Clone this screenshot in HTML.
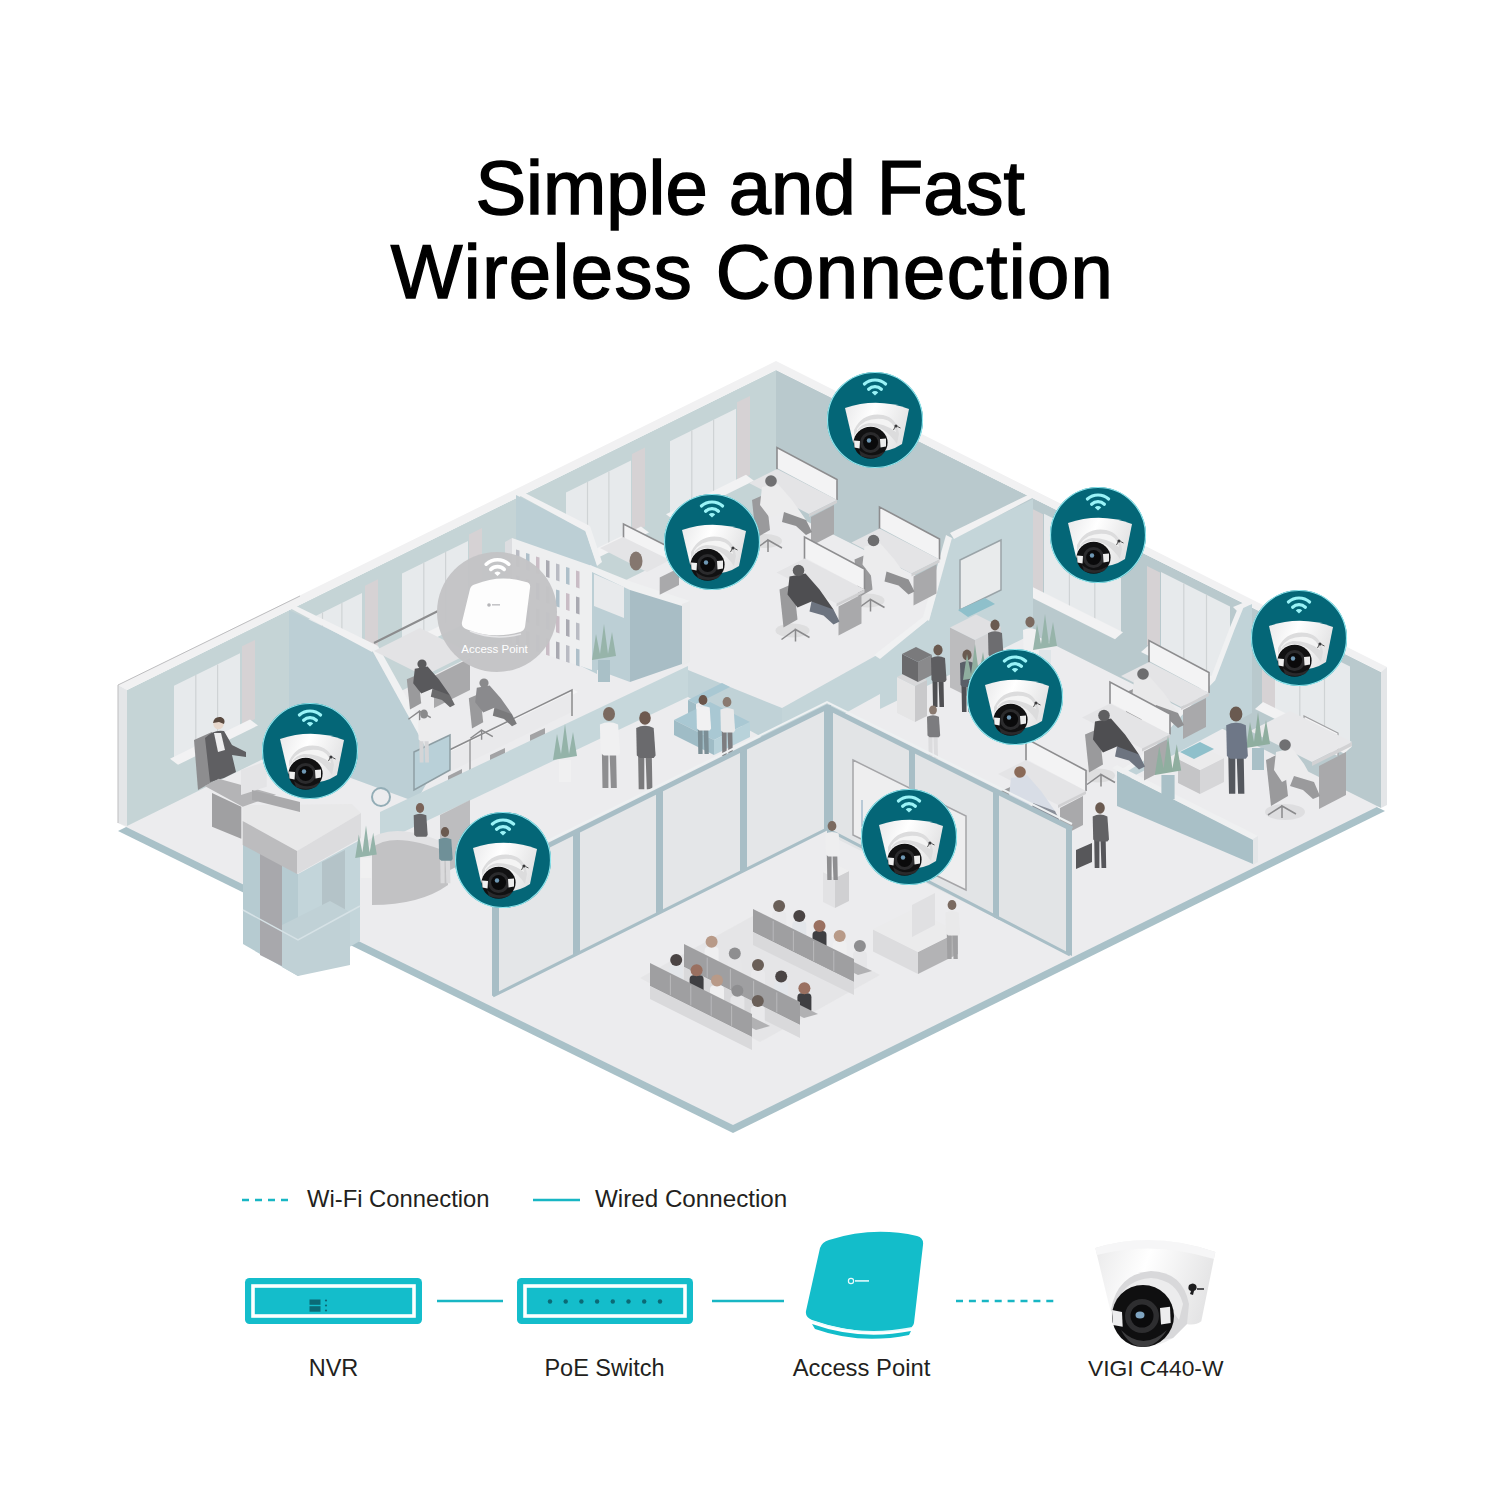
<!DOCTYPE html>
<html><head><meta charset="utf-8">
<style>
html,body{margin:0;padding:0;background:#fff;width:1500px;height:1500px;overflow:hidden}
svg{display:block}
text{font-family:"Liberation Sans",sans-serif}
</style></head>
<body>
<svg width="1500" height="1500" viewBox="0 0 1500 1500">
<defs>
  <linearGradient id="domeg" x1="0" y1="0" x2="1" y2="0.3">
    <stop offset="0" stop-color="#e9e9ea"/><stop offset="0.45" stop-color="#ffffff"/><stop offset="1" stop-color="#e4e4e5"/>
  </linearGradient>
  <g id="cam">
    <circle r="48" fill="#046677"/>
    <circle r="47.5" fill="none" stroke="#8ee6ee" stroke-width="1.2"/>
    <path d="M-10.6,-36 A16,16 0 0 1 10.6,-36" fill="none" stroke="#9af3f7" stroke-width="3.2" stroke-linecap="round"/>
    <path d="M-6.4,-30.8 A9.5,9.5 0 0 1 6.4,-30.8" fill="none" stroke="#9af3f7" stroke-width="3.2" stroke-linecap="round"/>
    <path d="M-3.2,-27.6 A4.2,4.2 0 0 1 3.2,-27.6 L0,-24.5 Z" fill="#9af3f7"/>
    <path d="M-30,-12 Q2,-23 34,-11 L27,24 Q14,33 -6,32 Q-18,30 -22,22 Z" fill="url(#domeg)"/>
    <path d="M-21,10 Q-12,-8 8,-5 Q22,-2 24,14 L22,24 Q10,6 -6,6 Q-16,7 -21,16 Z" fill="#dcdcdd"/>
    <path d="M-18,9 Q-10,-3 8,-1 Q19,1 21,12 Q10,3 -6,3 Q-14,4 -18,11 Z" fill="#f4f4f4"/>
    <ellipse cx="-4.4" cy="22.7" rx="17" ry="16" fill="#111112"/>
    <path d="M-16,30 Q-4,40 10,31 L6,36 Q-4,40 -14,36 Z" fill="#2a2a2c"/>
    <circle cx="-4.4" cy="22.5" r="10.5" fill="#2b2b2d"/>
    <circle cx="-4.4" cy="22.5" r="7.5" fill="#0a0a0b"/>
    <circle cx="-6" cy="20.5" r="2.2" fill="#6f98b4"/>
    <path d="M-21,20.5 L-15,21 L-15.5,28.6 L-20.5,27.5 Z" fill="#f0f0f0"/>
    <path d="M5,19 L11,18.5 L11,26.5 L5.5,27.5 Z" fill="#ececec"/>
    <circle cx="21" cy="6" r="1.6" fill="#3a3a3c"/><path d="M20,7 l-1.5,3 M22.5,6.5 l3,1.5" stroke="#555" stroke-width="1"/>
  </g>
</defs>

<text x="750" y="214" text-anchor="middle" font-size="76" fill="#000" stroke="#000" stroke-width="1.5">Simple and Fast</text>
<text x="752.5" y="298" text-anchor="middle" font-size="76" letter-spacing="1.4" fill="#000" stroke="#000" stroke-width="1.5">Wireless Connection</text>
<polygon points="118.0,823.0 733.0,1125.0 1385.0,803.0 770.0,501.0" fill="#a9c1c8" transform="translate(0,8)"/>
<polygon points="118.0,823.0 733.0,1125.0 1385.0,803.0 770.0,501.0" fill="#ececee"/>
<polygon points="127.0,690.0 776.0,370.0 776.0,506.0 127.0,826.0" fill="#c5d4d6"/>
<polygon points="776.0,370.0 1381.0,671.9 1381.0,807.9 776.0,506.0" fill="#b9c9cd"/>
<polygon points="242.0,646.3 255.0,639.9 255.0,718.9 242.0,725.3" fill="#d6d2d4"/>
<polygon points="174.0,685.8 240.0,653.3 240.0,725.3 174.0,757.8" fill="#e7eaec"/>
<line x1="195.8" y1="675.1" x2="195.8" y2="747.1" stroke="#cfd3d5" stroke-width="1.2"/>
<line x1="217.6" y1="664.4" x2="217.6" y2="736.4" stroke="#cfd3d5" stroke-width="1.2"/>
<polygon points="170.0,758.8 250.0,719.4 258.0,725.4 178.0,764.8" fill="#f2f2f3"/>
<polygon points="365.0,585.7 378.0,579.3 378.0,658.3 365.0,664.7" fill="#d6d2d4"/>
<polygon points="303.0,622.2 362.0,593.1 362.0,665.1 303.0,694.2" fill="#e7eaec"/>
<line x1="322.5" y1="612.6" x2="322.5" y2="684.6" stroke="#cfd3d5" stroke-width="1.2"/>
<line x1="341.9" y1="603.0" x2="341.9" y2="675.0" stroke="#cfd3d5" stroke-width="1.2"/>
<polygon points="299.0,695.2 372.0,659.2 380.0,665.2 307.0,701.2" fill="#f2f2f3"/>
<polygon points="469.0,534.4 482.0,528.0 482.0,607.0 469.0,613.4" fill="#d6d2d4"/>
<polygon points="402.0,573.4 468.0,540.9 468.0,612.9 402.0,645.4" fill="#e7eaec"/>
<line x1="423.8" y1="562.7" x2="423.8" y2="634.7" stroke="#cfd3d5" stroke-width="1.2"/>
<line x1="445.6" y1="551.9" x2="445.6" y2="623.9" stroke="#cfd3d5" stroke-width="1.2"/>
<polygon points="398.0,646.4 478.0,607.0 486.0,613.0 406.0,652.4" fill="#f2f2f3"/>
<polygon points="632.0,454.0 645.0,447.6 645.0,526.6 632.0,533.0" fill="#d6d2d4"/>
<polygon points="566.0,492.6 631.0,460.5 631.0,532.5 566.0,564.6" fill="#e7eaec"/>
<line x1="587.5" y1="482.0" x2="587.5" y2="554.0" stroke="#cfd3d5" stroke-width="1.2"/>
<line x1="608.9" y1="471.4" x2="608.9" y2="543.4" stroke="#cfd3d5" stroke-width="1.2"/>
<polygon points="562.0,565.5 641.0,526.6 649.0,532.6 570.0,571.5" fill="#f2f2f3"/>
<polygon points="737.0,402.3 750.0,395.9 750.0,474.9 737.0,481.3" fill="#d6d2d4"/>
<polygon points="670.0,441.3 736.0,408.8 736.0,480.8 670.0,513.3" fill="#e7eaec"/>
<line x1="691.8" y1="430.6" x2="691.8" y2="502.6" stroke="#cfd3d5" stroke-width="1.2"/>
<line x1="713.6" y1="419.8" x2="713.6" y2="491.8" stroke="#cfd3d5" stroke-width="1.2"/>
<polygon points="666.0,514.3 746.0,474.8 754.0,480.8 674.0,520.3" fill="#f2f2f3"/>
<polygon points="1030.0,507.7 1043.0,514.2 1043.0,593.2 1030.0,586.7" fill="#d6d2d4"/>
<polygon points="1044.0,513.7 1121.0,552.2 1121.0,632.2 1044.0,593.7" fill="#e7eaec"/>
<line x1="1069.4" y1="526.4" x2="1069.4" y2="606.4" stroke="#cfd3d5" stroke-width="1.2"/>
<line x1="1094.8" y1="539.1" x2="1094.8" y2="619.1" stroke="#cfd3d5" stroke-width="1.2"/>
<polygon points="1032.0,586.7 1123.0,632.2 1115.0,639.2 1024.0,593.7" fill="#f2f2f3"/>
<polygon points="1147.0,566.1 1160.0,572.6 1160.0,651.6 1147.0,645.1" fill="#d6d2d4"/>
<polygon points="1161.0,572.1 1230.0,606.5 1230.0,686.5 1161.0,652.1" fill="#e7eaec"/>
<line x1="1183.8" y1="583.5" x2="1183.8" y2="663.5" stroke="#cfd3d5" stroke-width="1.2"/>
<line x1="1206.5" y1="594.8" x2="1206.5" y2="674.8" stroke="#cfd3d5" stroke-width="1.2"/>
<polygon points="1149.0,645.1 1232.0,686.5 1224.0,693.5 1141.0,652.1" fill="#f2f2f3"/>
<polygon points="1262.0,623.5 1275.0,630.0 1275.0,709.0 1262.0,702.5" fill="#d6d2d4"/>
<polygon points="1275.0,629.0 1350.0,666.4 1350.0,746.4 1275.0,709.0" fill="#e7eaec"/>
<line x1="1299.8" y1="641.4" x2="1299.8" y2="721.4" stroke="#cfd3d5" stroke-width="1.2"/>
<line x1="1324.5" y1="653.7" x2="1324.5" y2="733.7" stroke="#cfd3d5" stroke-width="1.2"/>
<polygon points="1263.0,702.0 1352.0,746.4 1344.0,753.4 1255.0,709.0" fill="#f2f2f3"/>
<polygon points="118.0,685.0 776.0,361.0 1387.0,667.0 1381.0,671.9 776.0,370.0 127.0,690.0" fill="#f1f1f2"/>
<polygon points="118.0,685.0 127.0,690.0 127.0,826.0 118.0,823.0" fill="#e4e6e8"/>
<polyline points="118,823 118,685 300,596" stroke="#bdbdbf" stroke-width="1" fill="none"/>
<polygon points="1381.0,671.9 1387.0,667.0 1387.0,805.0 1381.0,807.9" fill="#e4e6e8"/>
<polygon points="289.0,610.0 372.0,650.0 437.0,765.0 416.0,802.0 340.0,774.0 289.0,748.0" fill="#bccfd5"/>
<polygon points="286.0,606.0 292.0,604.0 378.0,646.0 372.0,652.0" fill="#f1f1f2"/>
<polygon points="372.0,650.0 378.0,646.0 443.0,763.0 437.0,768.0" fill="#f0f1f2"/>
<polygon points="516.0,495.0 585.0,530.0 597.0,564.0 597.0,674.0 516.0,634.0" fill="#bccfd5"/>
<polygon points="513.0,492.0 519.0,490.0 590.0,526.0 585.0,531.0" fill="#f1f1f2"/>
<polygon points="585.0,530.0 590.0,526.0 602.0,562.0 597.0,566.0" fill="#f0f1f2"/>
<polygon points="512.0,538.0 592.0,566.0 592.0,670.0 512.0,643.0" fill="#eeeff0"/>
<polygon points="505.0,542.0 512.0,538.0 512.0,643.0 505.0,646.0" fill="#dcdde0"/>
<polygon points="516.0,549.4 519.5,550.6 519.5,567.4 516.0,566.2" fill="#b9bbc3"/>
<polygon points="526.0,552.9 529.5,554.1 529.5,570.9 526.0,569.7" fill="#aebfc9"/>
<polygon points="536.0,556.4 539.5,557.6 539.5,574.4 536.0,573.2" fill="#c9bcc5"/>
<polygon points="546.0,559.9 549.5,561.1 549.5,577.9 546.0,576.7" fill="#a9a9b1"/>
<polygon points="556.0,563.4 559.5,564.6 559.5,581.4 556.0,580.2" fill="#b9bbc3"/>
<polygon points="566.0,566.9 569.5,568.1 569.5,584.9 566.0,583.7" fill="#aebfc9"/>
<polygon points="576.0,570.4 579.5,571.6 579.5,588.4 576.0,587.2" fill="#c9bcc5"/>
<polygon points="516.0,575.4 519.5,576.6 519.5,593.4 516.0,592.2" fill="#aebfc9"/>
<polygon points="526.0,578.9 529.5,580.1 529.5,596.9 526.0,595.7" fill="#c9bcc5"/>
<polygon points="536.0,582.4 539.5,583.6 539.5,600.4 536.0,599.2" fill="#a9a9b1"/>
<polygon points="546.0,585.9 549.5,587.1 549.5,603.9 546.0,602.7" fill="#b9bbc3"/>
<polygon points="556.0,589.4 559.5,590.6 559.5,607.4 556.0,606.2" fill="#aebfc9"/>
<polygon points="566.0,592.9 569.5,594.1 569.5,610.9 566.0,609.7" fill="#c9bcc5"/>
<polygon points="576.0,596.4 579.5,597.6 579.5,614.4 576.0,613.2" fill="#a9a9b1"/>
<polygon points="516.0,601.4 519.5,602.6 519.5,619.4 516.0,618.2" fill="#c9bcc5"/>
<polygon points="526.0,604.9 529.5,606.1 529.5,622.9 526.0,621.7" fill="#a9a9b1"/>
<polygon points="536.0,608.4 539.5,609.6 539.5,626.4 536.0,625.2" fill="#b9bbc3"/>
<polygon points="546.0,611.9 549.5,613.1 549.5,629.9 546.0,628.7" fill="#aebfc9"/>
<polygon points="556.0,615.4 559.5,616.6 559.5,633.4 556.0,632.2" fill="#c9bcc5"/>
<polygon points="566.0,618.9 569.5,620.1 569.5,636.9 566.0,635.7" fill="#a9a9b1"/>
<polygon points="576.0,622.4 579.5,623.6 579.5,640.4 576.0,639.2" fill="#b9bbc3"/>
<polygon points="516.0,627.4 519.5,628.6 519.5,645.4 516.0,644.2" fill="#a9a9b1"/>
<polygon points="526.0,630.9 529.5,632.1 529.5,648.9 526.0,647.7" fill="#b9bbc3"/>
<polygon points="536.0,634.4 539.5,635.6 539.5,652.4 536.0,651.2" fill="#aebfc9"/>
<polygon points="546.0,637.9 549.5,639.1 549.5,655.9 546.0,654.7" fill="#c9bcc5"/>
<polygon points="556.0,641.4 559.5,642.6 559.5,659.4 556.0,658.2" fill="#a9a9b1"/>
<polygon points="566.0,644.9 569.5,646.1 569.5,662.9 566.0,661.7" fill="#b9bbc3"/>
<polygon points="576.0,648.4 579.5,649.6 579.5,666.4 576.0,665.2" fill="#aebfc9"/>
<polygon points="592.0,569.0 630.0,586.0 630.0,682.0 592.0,668.0" fill="#bccfd5"/>
<polygon points="594.0,574.0 624.0,587.0 624.0,618.0 594.0,606.0" fill="#e8eaec"/>
<polygon points="630.0,586.0 682.0,604.0 682.0,664.0 630.0,682.0" fill="#a8bdc5"/>
<polygon points="590.0,565.0 632.0,582.0 690.0,601.0 682.0,606.0 630.0,590.0 592.0,572.0" fill="#eff0f1"/>
<polygon points="682.0,604.0 690.0,601.0 690.0,662.0 682.0,666.0" fill="#e9eaeb"/>
<polyline points="374,643 438,611" stroke="#8c8c8e" stroke-width="2" fill="none"/>
<polygon points="437.0,755.0 572.0,689.0 578.0,692.0 443.0,758.0" fill="#f4f4f5"/>
<polygon points="437.0,758.0 572.0,692.0 572.0,712.0 437.0,778.0" fill="#e9e9eb"/>
<polygon points="448.0,776.0 462.0,769.0 462.0,790.0 448.0,797.0" fill="#a3a3a5"/>
<polygon points="490.0,755.0 505.0,748.0 505.0,770.0 490.0,777.0" fill="#a3a3a5"/>
<polygon points="530.0,735.0 545.0,728.0 545.0,750.0 530.0,757.0" fill="#a3a3a5"/>
<polyline points="437,756 572,690 572,716" stroke="#8a8a8c" stroke-width="1.5" fill="none"/>
<polyline points="470,740 470,775" stroke="#8a8a8c" stroke-width="1.2" fill="none"/>
<polygon points="414.0,752.0 450.0,735.0 450.0,770.0 414.0,790.0" fill="#b9d0d8"/>
<polygon points="414,752 450,735 450,770 414,790" fill="none" stroke="#8e9ea4" stroke-width="1.5"/>
<polygon points="380.0,812.0 688.0,666.0 688.0,697.0 380.0,843.0" fill="#c6d7db"/>
<polygon points="688.0,670.0 782.0,708.0 782.0,748.0 688.0,697.0" fill="#c0d2d7"/>
<polygon points="782.0,708.0 920.0,631.0 920.0,672.0 782.0,748.0" fill="#c4d5d9"/>
<polygon points="1033.0,499.0 952.0,538.0 929.0,619.0 880.0,657.0 880.0,709.0 1033.0,634.0" fill="#c4d5d9"/>
<polygon points="1036.0,496.0 1030.0,494.0 950.0,533.0 954.0,539.0" fill="#f1f1f2"/>
<polygon points="952.0,538.0 946.0,535.0 923.0,617.0 929.0,621.0" fill="#f0f1f2"/>
<polygon points="929.0,619.0 923.0,617.0 874.0,655.0 880.0,659.0" fill="#f0f1f2"/>
<polygon points="960.0,560.0 1001.0,540.0 1001.0,590.0 960.0,610.0" fill="#e9ebec"/>
<polygon points="960,560 1001,540 1001,590 960,610" fill="none" stroke="#9aa4a8" stroke-width="1.5"/>
<polygon points="1252.0,604.0 1241.0,607.0 1232.0,629.0 1213.0,679.0 1174.0,720.0 1141.0,760.0 1117.0,775.0 1117.0,785.0 1252.0,713.0" fill="#c1d3d8"/>
<polygon points="1256.0,602.0 1250.0,600.0 1233.0,607.0 1237.0,611.0" fill="#f1f1f2"/>
<polyline points="1241,607 1232,629 1213,679 1174,720 1141,760 1117,775" stroke="#f0f1f2" stroke-width="5" fill="none" stroke-linejoin="round"/>
<polygon points="1117.0,771.0 1253.0,839.0 1253.0,864.0 1117.0,806.0" fill="#a9c0c7"/>
<polygon points="1112.0,768.0 1117.0,765.0 1258.0,836.0 1253.0,840.0" fill="#eff0f1"/>
<polygon points="1253.0,839.0 1258.0,836.0 1258.0,862.0 1253.0,865.0" fill="#e4e6e8"/>
<polygon points="243.0,843.0 298.0,874.0 298.0,976.0 243.0,944.0" fill="#b6cbd1"/>
<polygon points="298.0,874.0 360.0,840.0 360.0,941.0 298.0,976.0" fill="#c3d5da"/>
<polygon points="260.0,853.0 282.0,865.0 282.0,966.0 260.0,955.0" fill="#a8a8ac"/>
<polygon points="322.0,862.0 345.0,850.0 345.0,918.0 322.0,930.0" fill="#b4c3c8"/>
<polygon points="282.0,925.0 330.0,901.0 350.0,912.0 350.0,965.0 298.0,976.0 282.0,967.0" fill="#c0d1d6"/>
<polyline points="243,910 298,940 360,906" stroke="#d6e2e6" stroke-width="1.5" fill="none"/>
<polygon points="242.7,805.0 352.0,804.0 361.0,813.0 297.0,851.0 242.7,821.0" fill="#e8e8e9"/>
<polygon points="242.7,821.0 297.0,851.0 297.0,874.0 242.7,845.0" fill="#bcbcbe"/>
<polygon points="297.0,851.0 361.0,813.0 361.0,838.0 297.0,874.0" fill="#dcdcde"/>
<polygon points="194.0,740.0 212.0,732.0 216.0,780.0 198.0,790.0" fill="#8d8d8f"/>
<path d="M205,738 Q214,729 224,731 L232,745 L246,752 L246,757 L232,755 L236,772 L224,778 L210,782 Z" fill="#5f5f62"/>
<path d="M214,733 L221,733 L225,750 L218,752 Z" fill="#eeeeef"/>
<circle cx="218.5" cy="724" r="5.2" fill="#e8d8cc"/>
<path d="M213,723 Q214,716 221,717 Q226,719 224,724 L219,722 Z" fill="#5a4a40"/>
<polygon points="204.7,786.0 218.7,778.7 276.0,794.7 242.7,806.7" fill="#b4b4b6"/>
<polygon points="212.0,793.0 241.3,806.7 241.3,838.7 212.0,826.7" fill="#a0a0a2"/>
<polygon points="241.0,770.0 266.7,761.0 266.7,786.7 241.0,795.0" fill="#e4e4e6"/>
<polygon points="252.0,790.0 300.0,802.0 300.0,812.0 252.0,800.0" fill="#a9a9ab"/>
<path d="M372,846 Q392,825 448,850 L448,885 Q420,905 372,905 Z" fill="#c2c2c4"/>
<path d="M366,842 Q392,818 452,846 L448,852 Q392,830 372,848 Z" fill="#e2e2e4"/>
<polygon points="440.0,815.0 470.0,800.0 470.0,860.0 440.0,875.0" fill="#bdbdbf"/>
<path d="M413.7,815.2 q6.3,-3.1 12.6,0 l1.4,19.8 l-1.4,1.8 l-9.9,0 l-2.2,-1.8 z" fill="#666669"/>
<ellipse cx="420.0" cy="808.0" rx="4.1" ry="4.9" fill="#7a6358"/>
<path d="M440.1,859.0 l4.5,0 l0.0,24.3 l-4.0,0 z M445.4,859.0 l4.5,0 l0.5,24.3 l-4.0,0 z" fill="#dadadc"/>
<path d="M438.7,839.2 q6.3,-3.1 12.6,0 l1.4,19.8 l-1.4,1.8 l-9.9,0 l-2.2,-1.8 z" fill="#6f9098"/>
<ellipse cx="445.0" cy="832.0" rx="4.1" ry="4.9" fill="#6b5a50"/>
<path d="M355.2,858.0 l3.6,-23.4 l3.6,18.0 l3.6,-27.0 l3.6,27.0 l3.6,-19.8 l3.6,21.6 z" fill="#94b3a9"/>
<rect x="360.6" y="858.0" width="10.8" height="19.8" fill="#f0f0f1"/>
<circle cx="381" cy="797" r="9" fill="none" stroke="#93adb6" stroke-width="2"/>
<polygon points="374.0,651.0 420.0,628.0 470.0,653.0 424.0,676.0" fill="#e3e3e5"/>
<polygon points="434.0,676.0 470.0,658.0 470.0,690.0 434.0,708.0" fill="#a9a9ab"/>
<polygon points="406.8,679.2 418.0,674.4 421.2,703.2 410.0,709.6" fill="#9a9a9c"/>
<polyline points="408.4,719.2 419.6,711.2 430.8,717.6 419.6,711.2 419.6,720.8" stroke="#8a8a8c" stroke-width="1.4" fill="none"/>
<polygon points="414.8,668.8 427.6,666.4 438.8,679.2 450.0,695.2 445.2,698.4 432.4,688.8 421.2,693.6 413.2,683.2" fill="#59595c"/>
<polygon points="432.4,688.8 450.0,695.2 454.8,704.8 450.0,707.2 442.0,700.0 430.8,696.8" fill="#6a6a6c"/>
<circle cx="422.0" cy="664.0" r="4.6" fill="#5a5a5c"/>
<polygon points="468.8,698.2 480.0,693.4 483.2,722.2 472.0,728.6" fill="#9a9a9c"/>
<polyline points="470.4,738.2 481.6,730.2 492.8,736.6 481.6,730.2 481.6,739.8" stroke="#8a8a8c" stroke-width="1.4" fill="none"/>
<polygon points="476.8,687.8 489.6,685.4 500.8,698.2 512.0,714.2 507.2,717.4 494.4,707.8 483.2,712.6 475.2,702.2" fill="#8a8a8d"/>
<polygon points="494.4,707.8 512.0,714.2 516.8,723.8 512.0,726.2 504.0,719.0 492.8,715.8" fill="#7a7a7c"/>
<circle cx="484.0" cy="683.0" r="4.6" fill="#8a8a8c"/>
<path d="M419.3,739.5 l4.2,0 l0.0,22.9 l-3.8,0 z M424.4,739.5 l4.2,0 l0.4,22.9 l-3.8,0 z" fill="#d5d5d7"/>
<path d="M418.1,720.8 q6.0,-3.0 11.9,0 l1.3,18.7 l-1.3,1.7 l-9.3,0 l-2.1,-1.7 z" fill="#ececed"/>
<ellipse cx="424.0" cy="714.0" rx="3.9" ry="4.6" fill="#8a8a8c"/>
<path d="M601.9,753.0 l6.5,0 l0.0,35.1 l-5.9,0 z M609.6,753.0 l6.5,0 l0.7,35.1 l-5.9,0 z" fill="#8e8e90"/>
<path d="M599.9,724.4 q9.1,-4.5 18.2,0 l2.0,28.6 l-2.0,2.6 l-14.3,0 l-3.2,-2.6 z" fill="#f0f0f1"/>
<ellipse cx="609.0" cy="714.0" rx="6.0" ry="7.0" fill="#7b6a60"/>
<path d="M638.1,755.5 l6.2,0 l0.0,33.8 l-5.6,0 z M645.6,755.5 l6.2,0 l0.6,33.8 l-5.6,0 z" fill="#7a7a7c"/>
<path d="M636.2,728.0 q8.8,-4.4 17.5,0 l1.9,27.5 l-1.9,2.5 l-13.8,0 l-3.1,-2.5 z" fill="#6a6a6d"/>
<ellipse cx="645.0" cy="718.0" rx="5.8" ry="6.8" fill="#6e5a50"/>
<path d="M553.0,760.0 l4.0,-26.0 l4.0,20.0 l4.0,-30.0 l4.0,30.0 l4.0,-22.0 l4.0,24.0 z" fill="#94b3a9"/>
<rect x="559.0" y="760.0" width="12.0" height="22.0" fill="#f0f0f1"/>
<polygon points="688.0,700.0 722.0,683.0 730.0,687.0 696.0,704.0" fill="#a9c8d3"/>
<polygon points="688.0,700.0 696.0,704.0 696.0,722.0 688.0,718.0" fill="#9fbcc6"/>
<polygon points="674.0,720.0 710.0,702.0 750.0,722.0 714.0,740.0" fill="#a9c8d3"/>
<polygon points="674.0,720.0 714.0,740.0 714.0,755.0 674.0,735.0" fill="#9fbcc6"/>
<polygon points="714.0,740.0 750.0,722.0 750.0,737.0 714.0,755.0" fill="#b8d2da"/>
<path d="M697.8,728.5 l4.8,0 l0.0,25.6 l-4.3,0 z M703.5,728.5 l4.8,0 l0.5,25.6 l-4.3,0 z" fill="#7c8f96"/>
<path d="M696.4,707.6 q6.6,-3.3 13.3,0 l1.4,20.9 l-1.4,1.9 l-10.4,0 l-2.4,-1.9 z" fill="#f1f1f2"/>
<ellipse cx="703.0" cy="700.0" rx="4.4" ry="5.1" fill="#6a554a"/>
<path d="M721.8,730.5 l4.8,0 l0.0,25.6 l-4.3,0 z M727.5,730.5 l4.8,0 l0.5,25.6 l-4.3,0 z" fill="#7d7d80"/>
<path d="M720.4,709.6 q6.6,-3.3 13.3,0 l1.4,20.9 l-1.4,1.9 l-10.4,0 l-2.4,-1.9 z" fill="#e9e9ea"/>
<ellipse cx="727.0" cy="702.0" rx="4.4" ry="5.1" fill="#8a7a70"/>
<path d="M592.0,660.0 l4.0,-26.0 l4.0,20.0 l4.0,-30.0 l4.0,30.0 l4.0,-22.0 l4.0,24.0 z" fill="#97b4aa"/>
<rect x="598.0" y="660.0" width="12.0" height="22.0" fill="#a9c0c7"/>
<ellipse cx="765.0" cy="541.0" rx="17" ry="7" fill="#dededf"/>
<polygon points="777.0,447.5 837.0,479.5 837.0,500.0 777.0,468.0" fill="#f3f3f4"/>
<polyline points="777.0,472.0 777.0,447.5 837.0,479.5 837.0,500.0" stroke="#8d8d8f" stroke-width="1.6" fill="none"/>
<polygon points="749.0,483.0 777.0,469.0 837.0,500.0 809.0,514.0" fill="#e4e4e6"/>
<polygon points="809.0,514.0 837.0,500.0 837.0,503.0 809.0,517.0" fill="#d0d0d2"/>
<polygon points="811.0,517.0 834.0,505.0 834.0,534.0 811.0,546.0" fill="#a9a9ab"/>
<polygon points="752.0,500.0 766.0,494.0 770.0,530.0 756.0,538.0" fill="#9a9a9c"/>
<polyline points="754.0,550.0 768.0,540.0 782.0,548.0 768.0,540.0 768.0,552.0" stroke="#8a8a8c" stroke-width="1.5" fill="none"/>
<polygon points="762.0,487.0 778.0,484.0 792.0,500.0 806.0,520.0 800.0,524.0 784.0,512.0 770.0,518.0 760.0,505.0" fill="#ececed"/>
<polygon points="784.0,512.0 806.0,520.0 812.0,532.0 806.0,535.0 796.0,526.0 782.0,522.0" fill="#909092"/>
<circle cx="771.0" cy="481.0" r="5.8" fill="#707072"/>
<ellipse cx="867.5" cy="600.5" rx="17" ry="7" fill="#dededf"/>
<polygon points="879.5,507.0 939.5,539.0 939.5,559.5 879.5,527.5" fill="#f3f3f4"/>
<polyline points="879.5,531.5 879.5,507.0 939.5,539.0 939.5,559.5" stroke="#8d8d8f" stroke-width="1.6" fill="none"/>
<polygon points="851.5,542.5 879.5,528.5 939.5,559.5 911.5,573.5" fill="#e4e4e6"/>
<polygon points="911.5,573.5 939.5,559.5 939.5,562.5 911.5,576.5" fill="#d0d0d2"/>
<polygon points="913.5,576.5 936.5,564.5 936.5,593.5 913.5,605.5" fill="#a9a9ab"/>
<polygon points="854.5,559.5 868.5,553.5 872.5,589.5 858.5,597.5" fill="#9a9a9c"/>
<polyline points="856.5,609.5 870.5,599.5 884.5,607.5 870.5,599.5 870.5,611.5" stroke="#8a8a8c" stroke-width="1.5" fill="none"/>
<polygon points="864.5,546.5 880.5,543.5 894.5,559.5 908.5,579.5 902.5,583.5 886.5,571.5 872.5,577.5 862.5,564.5" fill="#ececed"/>
<polygon points="886.5,571.5 908.5,579.5 914.5,591.5 908.5,594.5 898.5,585.5 884.5,581.5" fill="#909092"/>
<circle cx="873.5" cy="540.5" r="5.8" fill="#6d6d6f"/>
<ellipse cx="792.5" cy="630.5" rx="17" ry="7" fill="#dededf"/>
<polygon points="804.5,537.0 864.5,569.0 864.5,589.5 804.5,557.5" fill="#f3f3f4"/>
<polyline points="804.5,561.5 804.5,537.0 864.5,569.0 864.5,589.5" stroke="#8d8d8f" stroke-width="1.6" fill="none"/>
<polygon points="776.5,572.5 804.5,558.5 864.5,589.5 836.5,603.5" fill="#e4e4e6"/>
<polygon points="836.5,603.5 864.5,589.5 864.5,592.5 836.5,606.5" fill="#d0d0d2"/>
<polygon points="838.5,606.5 861.5,594.5 861.5,623.5 838.5,635.5" fill="#a9a9ab"/>
<polygon points="779.5,589.5 793.5,583.5 797.5,619.5 783.5,627.5" fill="#9a9a9c"/>
<polyline points="781.5,639.5 795.5,629.5 809.5,637.5 795.5,629.5 795.5,641.5" stroke="#8a8a8c" stroke-width="1.5" fill="none"/>
<polygon points="789.5,576.5 805.5,573.5 819.5,589.5 833.5,609.5 827.5,613.5 811.5,601.5 797.5,607.5 787.5,594.5" fill="#4e4e51"/>
<polygon points="811.5,601.5 833.5,609.5 839.5,621.5 833.5,624.5 823.5,615.5 809.5,611.5" fill="#6d7480"/>
<circle cx="798.5" cy="570.5" r="5.8" fill="#5f5f61"/>
<polygon points="623.5,524.0 670.4,547.7 670.4,562.0 623.5,538.0" fill="#f3f3f4"/>
<polyline points="623.5,542 623.5,524 670.4,547.7 670.4,560" stroke="#8d8d8f" stroke-width="1.6" fill="none"/>
<polygon points="600.0,548.0 623.0,537.0 670.0,560.0 647.0,572.0" fill="#e4e4e6"/>
<polygon points="659.7,577.6 679.0,568.0 679.0,585.0 659.7,594.7" fill="#a9a9ab"/>
<ellipse cx="636" cy="561" rx="6.5" ry="9.5" fill="#85776f"/>
<polygon points="897.0,677.0 915.0,686.0 915.0,722.0 897.0,713.0" fill="#e5e5e6"/>
<polygon points="915.0,686.0 927.0,680.0 927.0,716.0 915.0,722.0" fill="#c9c9cb"/>
<polygon points="915.0,686.0 897.0,677.0 909.0,671.0 927.0,680.0" fill="#d8d8da"/>
<polygon points="902.0,654.0 918.0,662.0 918.0,682.0 902.0,674.0" fill="#6a6a6c"/>
<polygon points="918.0,662.0 932.0,655.0 932.0,675.0 918.0,682.0" fill="#8a8a8c"/>
<polygon points="918.0,662.0 902.0,654.0 916.0,647.0 932.0,655.0" fill="#7a7a7c"/>
<polygon points="950.0,627.5 975.0,640.0 975.0,700.0 950.0,687.5" fill="#bcbcbe"/>
<polygon points="975.0,640.0 1001.0,627.0 1001.0,687.0 975.0,700.0" fill="#d2d2d4"/>
<polygon points="975.0,640.0 950.0,627.5 976.0,614.5 1001.0,627.0" fill="#e0e0e2"/>
<polygon points="958.0,610.0 985.0,598.0 995.0,604.0 968.0,617.0" fill="#8fc0cb"/>
<path d="M932.5,680.0 l5.0,0 l0.0,27.0 l-4.5,0 z M938.5,680.0 l5.0,0 l0.5,27.0 l-4.5,0 z" fill="#4f4f52"/>
<path d="M931.0,658.0 q7.0,-3.5 14.0,0 l1.5,22.0 l-1.5,2.0 l-11.0,0 l-2.5,-2.0 z" fill="#5d5d60"/>
<ellipse cx="938.0" cy="650.0" rx="4.6" ry="5.4" fill="#6a5a50"/>
<path d="M961.5,685.0 l5.0,0 l0.0,27.0 l-4.5,0 z M967.5,685.0 l5.0,0 l0.5,27.0 l-4.5,0 z" fill="#505055"/>
<path d="M960.0,663.0 q7.0,-3.5 14.0,0 l1.5,22.0 l-1.5,2.0 l-11.0,0 l-2.5,-2.0 z" fill="#5a5f68"/>
<ellipse cx="967.0" cy="655.0" rx="4.6" ry="5.4" fill="#6a5a50"/>
<path d="M989.5,655.0 l5.0,0 l0.0,27.0 l-4.5,0 z M995.5,655.0 l5.0,0 l0.5,27.0 l-4.5,0 z" fill="#505055"/>
<path d="M988.0,633.0 q7.0,-3.5 14.0,0 l1.5,22.0 l-1.5,2.0 l-11.0,0 l-2.5,-2.0 z" fill="#6d6d70"/>
<ellipse cx="995.0" cy="625.0" rx="4.6" ry="5.4" fill="#6a5a50"/>
<path d="M1024.5,652.0 l5.0,0 l0.0,27.0 l-4.5,0 z M1030.5,652.0 l5.0,0 l0.5,27.0 l-4.5,0 z" fill="#8e8e90"/>
<path d="M1023.0,630.0 q7.0,-3.5 14.0,0 l1.5,22.0 l-1.5,2.0 l-11.0,0 l-2.5,-2.0 z" fill="#f0f0f1"/>
<ellipse cx="1030.0" cy="622.0" rx="4.6" ry="5.4" fill="#7b6a60"/>
<path d="M928.3,735.5 l4.2,0 l0.0,22.9 l-3.8,0 z M933.4,735.5 l4.2,0 l0.4,22.9 l-3.8,0 z" fill="#dcdcde"/>
<path d="M927.0,716.8 q6.0,-3.0 11.9,0 l1.3,18.7 l-1.3,1.7 l-9.3,0 l-2.1,-1.7 z" fill="#7c7c7f"/>
<ellipse cx="933.0" cy="710.0" rx="3.9" ry="4.6" fill="#8a7a70"/>
<path d="M963.0,680.0 l4.0,-26.0 l4.0,20.0 l4.0,-30.0 l4.0,30.0 l4.0,-22.0 l4.0,24.0 z" fill="#8fae9f"/>
<rect x="969.0" y="680.0" width="12.0" height="22.0" fill="#a9c0c7"/>
<path d="M1033.0,650.0 l4.0,-26.0 l4.0,20.0 l4.0,-30.0 l4.0,30.0 l4.0,-22.0 l4.0,24.0 z" fill="#97b4aa"/>
<rect x="1039.0" y="650.0" width="12.0" height="22.0" fill="#dfe5e8"/>
<ellipse cx="1137.0" cy="734.0" rx="17" ry="7" fill="#dededf"/>
<polygon points="1149.0,640.5 1209.0,672.5 1209.0,693.0 1149.0,661.0" fill="#f3f3f4"/>
<polyline points="1149.0,665.0 1149.0,640.5 1209.0,672.5 1209.0,693.0" stroke="#8d8d8f" stroke-width="1.6" fill="none"/>
<polygon points="1121.0,676.0 1149.0,662.0 1209.0,693.0 1181.0,707.0" fill="#e4e4e6"/>
<polygon points="1181.0,707.0 1209.0,693.0 1209.0,696.0 1181.0,710.0" fill="#d0d0d2"/>
<polygon points="1183.0,710.0 1206.0,698.0 1206.0,727.0 1183.0,739.0" fill="#a9a9ab"/>
<polygon points="1124.0,693.0 1138.0,687.0 1142.0,723.0 1128.0,731.0" fill="#9a9a9c"/>
<polyline points="1126.0,743.0 1140.0,733.0 1154.0,741.0 1140.0,733.0 1140.0,745.0" stroke="#8a8a8c" stroke-width="1.5" fill="none"/>
<polygon points="1134.0,680.0 1150.0,677.0 1164.0,693.0 1178.0,713.0 1172.0,717.0 1156.0,705.0 1142.0,711.0 1132.0,698.0" fill="#e9e9ea"/>
<polygon points="1156.0,705.0 1178.0,713.0 1184.0,725.0 1178.0,728.0 1168.0,719.0 1154.0,715.0" fill="#909092"/>
<circle cx="1143.0" cy="674.0" r="5.8" fill="#6d6d6f"/>
<ellipse cx="1098.0" cy="775.5" rx="17" ry="7" fill="#dededf"/>
<polygon points="1110.0,682.0 1170.0,714.0 1170.0,734.5 1110.0,702.5" fill="#f3f3f4"/>
<polyline points="1110.0,706.5 1110.0,682.0 1170.0,714.0 1170.0,734.5" stroke="#8d8d8f" stroke-width="1.6" fill="none"/>
<polygon points="1082.0,717.5 1110.0,703.5 1170.0,734.5 1142.0,748.5" fill="#e4e4e6"/>
<polygon points="1142.0,748.5 1170.0,734.5 1170.0,737.5 1142.0,751.5" fill="#d0d0d2"/>
<polygon points="1144.0,751.5 1167.0,739.5 1167.0,768.5 1144.0,780.5" fill="#a9a9ab"/>
<polygon points="1085.0,734.5 1099.0,728.5 1103.0,764.5 1089.0,772.5" fill="#9a9a9c"/>
<polyline points="1087.0,784.5 1101.0,774.5 1115.0,782.5 1101.0,774.5 1101.0,786.5" stroke="#8a8a8c" stroke-width="1.5" fill="none"/>
<polygon points="1095.0,721.5 1111.0,718.5 1125.0,734.5 1139.0,754.5 1133.0,758.5 1117.0,746.5 1103.0,752.5 1093.0,739.5" fill="#4e4e51"/>
<polygon points="1117.0,746.5 1139.0,754.5 1145.0,766.5 1139.0,769.5 1129.0,760.5 1115.0,756.5" fill="#6d7480"/>
<circle cx="1104.0" cy="715.5" r="5.8" fill="#5f5f61"/>
<ellipse cx="1014.0" cy="832.0" rx="17" ry="7" fill="#dededf"/>
<polygon points="1026.0,738.5 1086.0,770.5 1086.0,791.0 1026.0,759.0" fill="#f3f3f4"/>
<polyline points="1026.0,763.0 1026.0,738.5 1086.0,770.5 1086.0,791.0" stroke="#8d8d8f" stroke-width="1.6" fill="none"/>
<polygon points="998.0,774.0 1026.0,760.0 1086.0,791.0 1058.0,805.0" fill="#e4e4e6"/>
<polygon points="1058.0,805.0 1086.0,791.0 1086.0,794.0 1058.0,808.0" fill="#d0d0d2"/>
<polygon points="1060.0,808.0 1083.0,796.0 1083.0,825.0 1060.0,837.0" fill="#a9a9ab"/>
<polygon points="1001.0,791.0 1015.0,785.0 1019.0,821.0 1005.0,829.0" fill="#9a9a9c"/>
<polyline points="1003.0,841.0 1017.0,831.0 1031.0,839.0 1017.0,831.0 1017.0,843.0" stroke="#8a8a8c" stroke-width="1.5" fill="none"/>
<polygon points="1011.0,778.0 1027.0,775.0 1041.0,791.0 1055.0,811.0 1049.0,815.0 1033.0,803.0 1019.0,809.0 1009.0,796.0" fill="#d8dde6"/>
<polygon points="1033.0,803.0 1055.0,811.0 1061.0,823.0 1055.0,826.0 1045.0,817.0 1031.0,813.0" fill="#8a8f99"/>
<circle cx="1020.0" cy="772.0" r="5.8" fill="#8a6a58"/>
<path d="M1094.2,839.5 l5.2,0 l0.0,28.4 l-4.7,0 z M1100.5,839.5 l5.2,0 l0.5,28.4 l-4.7,0 z" fill="#56565a"/>
<path d="M1092.7,816.4 q7.4,-3.7 14.7,0 l1.6,23.1 l-1.6,2.1 l-11.6,0 l-2.6,-2.1 z" fill="#626265"/>
<ellipse cx="1100.0" cy="808.0" rx="4.8" ry="5.7" fill="#6a5a50"/>
<polygon points="1076.0,850.0 1092.0,843.0 1092.0,862.0 1076.0,869.0" fill="#57575a"/>
<polygon points="1178.0,759.0 1200.0,770.0 1200.0,794.0 1178.0,783.0" fill="#c5c5c7"/>
<polygon points="1200.0,770.0 1224.0,758.0 1224.0,782.0 1200.0,794.0" fill="#d6d6d8"/>
<polygon points="1200.0,770.0 1178.0,759.0 1202.0,747.0 1224.0,758.0" fill="#ebebec"/>
<polygon points="1180.0,752.0 1200.0,742.0 1214.0,749.0 1194.0,759.0" fill="#8fc0cb"/>
<path d="M1154.8,775.0 l4.4,-28.6 l4.4,22.0 l4.4,-33.0 l4.4,33.0 l4.4,-24.2 l4.4,26.4 z" fill="#8fae9f"/>
<rect x="1161.4" y="775.0" width="13.2" height="24.2" fill="#a9c0c7"/>
<ellipse cx="1285" cy="812" rx="20" ry="8" fill="#dedee0"/>
<polygon points="1304.0,716.0 1338.0,733.0 1338.0,756.0 1304.0,739.0" fill="#f3f3f4"/>
<polyline points="1304,739 1304,716 1338,733 1338,756" stroke="#a0a0a2" stroke-width="1.2" fill="none"/>
<polygon points="1250.0,731.0 1290.0,711.0 1352.0,742.0 1312.0,762.0" fill="#e8e8ea"/>
<polygon points="1312.0,762.0 1352.0,742.0 1352.0,746.0 1312.0,766.0" fill="#d2d2d4"/>
<polygon points="1319.0,766.0 1346.0,752.0 1346.0,795.0 1319.0,809.0" fill="#a9a9ab"/>
<polygon points="1266.0,760.0 1283.0,752.0 1288.0,796.0 1271.0,806.0" fill="#9a9a9c"/>
<polyline points="1268,815 1282,806 1296,814 1282,806 1282,818" stroke="#8a8a8c" stroke-width="1.5" fill="none"/>
<polygon points="1276.0,752.0 1292.0,748.0 1304.0,764.0 1314.0,782.0 1308.0,786.0 1294.0,776.0 1282.0,782.0 1274.0,770.0" fill="#ececed"/>
<polygon points="1294.0,776.0 1314.0,782.0 1320.0,796.0 1313.0,799.0 1303.0,790.0 1290.0,786.0" fill="#9a9a9c"/>
<circle cx="1285" cy="745" r="5.8" fill="#707072"/>
<path d="M1246.0,748.0 l4.0,-26.0 l4.0,20.0 l4.0,-30.0 l4.0,30.0 l4.0,-22.0 l4.0,24.0 z" fill="#8fae9f"/>
<rect x="1252.0" y="748.0" width="12.0" height="22.0" fill="#a9c0c7"/>
<path d="M1228.3,756.0 l7.0,0 l0.0,37.8 l-6.3,0 z M1236.7,756.0 l7.0,0 l0.7,37.8 l-6.3,0 z" fill="#55585e"/>
<path d="M1226.2,725.2 q9.8,-4.9 19.6,0 l2.1,30.8 l-2.1,2.8 l-15.4,0 l-3.5,-2.8 z" fill="#6e7787"/>
<ellipse cx="1236.0" cy="714.0" rx="6.4" ry="7.6" fill="#6a5a50"/>
<polygon points="493.0,873.0 827.0,707.0 827.0,829.0 493.0,996.0" fill="#e4e6e8"/>
<polygon points="827.0,707.0 1070.0,828.0 1070.0,955.0 827.0,834.0" fill="#e2e4e6"/>
<polygon points="853.0,760.0 966.0,816.0 966.0,890.0 853.0,835.0" fill="#eeeeef"/>
<polygon points="853,760 966,816 966,890 853,835" fill="none" stroke="#a5a5a8" stroke-width="1.5"/>
<polyline points="862,800 862,826 870,829 870,812 878,815 878,836" stroke="#b9c9d6" stroke-width="2" fill="none"/>
<polygon points="492.0,873.0 499.0,869.5 499.0,992.5 492.0,996.0" fill="#a8bec6"/>
<polygon points="573.0,832.7 580.0,829.2 580.0,952.0 573.0,955.5" fill="#a8bec6"/>
<polygon points="656.0,791.5 663.0,788.0 663.0,910.5 656.0,914.0" fill="#a8bec6"/>
<polygon points="740.0,749.7 747.0,746.2 747.0,868.5 740.0,872.0" fill="#a8bec6"/>
<polygon points="824.0,708.0 831.0,704.5 831.0,826.5 824.0,830.0" fill="#a8bec6"/>
<polygon points="827.0,707.0 833.0,710.0 833.0,837.0 827.0,834.0" fill="#a8bec6"/>
<polygon points="909.0,747.8 915.0,750.8 915.0,877.8 909.0,874.8" fill="#a8bec6"/>
<polygon points="993.0,789.7 999.0,792.7 999.0,919.7 993.0,916.7" fill="#a8bec6"/>
<polygon points="1066.0,826.0 1072.0,829.0 1072.0,956.0 1066.0,953.0" fill="#a8bec6"/>
<polyline points="493,873 827,707 1072,829" stroke="#a8bec6" stroke-width="5" fill="none" stroke-linejoin="miter"/>
<polyline points="493,868 827,702 1072,824" stroke="#eef1f2" stroke-width="2" fill="none"/>
<polyline points="493,996 827,829 1070,955" stroke="#a8bec6" stroke-width="3" fill="none"/>
<polygon points="823.0,872.0 835.0,878.0 835.0,908.0 823.0,902.0" fill="#e2e2e4"/>
<polygon points="835.0,878.0 849.0,871.0 849.0,901.0 835.0,908.0" fill="#d0d0d2"/>
<polygon points="835.0,878.0 823.0,872.0 837.0,865.0 849.0,871.0" fill="#eeeeef"/>
<path d="M826.8,854.5 l4.8,0 l0.0,25.6 l-4.3,0 z M832.5,854.5 l4.8,0 l0.5,25.6 l-4.3,0 z" fill="#8e8e90"/>
<path d="M825.4,833.6 q6.6,-3.3 13.3,0 l1.4,20.9 l-1.4,1.9 l-10.4,0 l-2.4,-1.9 z" fill="#eeeeef"/>
<ellipse cx="832.0" cy="826.0" rx="4.4" ry="5.1" fill="#7b6a60"/>
<polygon points="873.0,929.5 918.0,952.0 918.0,974.0 873.0,951.5" fill="#dcdcde"/>
<polygon points="918.0,952.0 958.0,932.0 958.0,954.0 918.0,974.0" fill="#b3b3b5"/>
<polygon points="918.0,952.0 873.0,929.5 913.0,909.5 958.0,932.0" fill="#ebebec"/>
<polygon points="912.0,905.0 935.0,893.0 935.0,925.0 912.0,937.0" fill="#e0e0e2"/>
<path d="M946.8,933.5 l4.8,0 l0.0,25.6 l-4.3,0 z M952.5,933.5 l4.8,0 l0.5,25.6 l-4.3,0 z" fill="#a0a0a2"/>
<path d="M945.4,912.6 q6.6,-3.3 13.3,0 l1.4,20.9 l-1.4,1.9 l-10.4,0 l-2.4,-1.9 z" fill="#e9e9ea"/>
<ellipse cx="952.0" cy="905.0" rx="4.4" ry="5.1" fill="#7a6a60"/>
<polygon points="640,978 760,912 880,975 760,1042" fill="#e3e3e5" opacity="0.8"/>
<rect x="772.1" y="911.0" width="14" height="20" rx="4" fill="#e9e9eb"/>
<circle cx="779.1" cy="906.0" r="6" fill="#6a5f58"/>
<rect x="792.3" y="921.0" width="14" height="20" rx="4" fill="#e3e6ea"/>
<circle cx="799.3" cy="916.0" r="6" fill="#4a4444"/>
<rect x="812.5" y="931.0" width="14" height="20" rx="4" fill="#3f3f42"/>
<circle cx="819.5" cy="926.0" r="6" fill="#9a7060"/>
<rect x="832.7" y="941.0" width="14" height="20" rx="4" fill="#efeff0"/>
<circle cx="839.7" cy="936.0" r="6" fill="#b89a88"/>
<rect x="852.9" y="951.0" width="14" height="20" rx="4" fill="#e6e6e8"/>
<circle cx="859.9" cy="946.0" r="6" fill="#8e8e90"/>
<polygon points="757.0,925.0 858.0,975.0 872.0,971.0 771.0,921.0" fill="#b1b1b3"/>
<polygon points="753.0,909.0 854.0,959.0 854.0,982.0 753.0,932.0" fill="#9f9fa1"/>
<line x1="773.2" y1="921.0" x2="773.2" y2="941.0" stroke="#b9b9bb" stroke-width="1"/>
<line x1="793.4" y1="931.0" x2="793.4" y2="951.0" stroke="#b9b9bb" stroke-width="1"/>
<line x1="813.6" y1="941.0" x2="813.6" y2="961.0" stroke="#b9b9bb" stroke-width="1"/>
<line x1="833.8" y1="951.0" x2="833.8" y2="971.0" stroke="#b9b9bb" stroke-width="1"/>
<polygon points="753.0,932.0 854.0,982.0 854.0,995.0 753.0,945.0" fill="#d9d9db"/>
<rect x="704.6" y="946.8" width="14" height="20" rx="4" fill="#efeff0"/>
<circle cx="711.6" cy="941.8" r="6" fill="#b89a88"/>
<rect x="727.8" y="958.4" width="14" height="20" rx="4" fill="#e6e6e8"/>
<circle cx="734.8" cy="953.4" r="6" fill="#8e8e90"/>
<rect x="751.0" y="970.0" width="14" height="20" rx="4" fill="#e9e9eb"/>
<circle cx="758.0" cy="965.0" r="6" fill="#6a5f58"/>
<rect x="774.2" y="981.6" width="14" height="20" rx="4" fill="#e3e6ea"/>
<circle cx="781.2" cy="976.6" r="6" fill="#4a4444"/>
<rect x="797.4" y="993.2" width="14" height="20" rx="4" fill="#3f3f42"/>
<circle cx="804.4" cy="988.2" r="6" fill="#9a7060"/>
<polygon points="688.0,960.0 804.0,1018.0 818.0,1014.0 702.0,956.0" fill="#b1b1b3"/>
<polygon points="684.0,944.0 800.0,1002.0 800.0,1025.0 684.0,967.0" fill="#9f9fa1"/>
<line x1="707.2" y1="957.6" x2="707.2" y2="977.6" stroke="#b9b9bb" stroke-width="1"/>
<line x1="730.4" y1="969.2" x2="730.4" y2="989.2" stroke="#b9b9bb" stroke-width="1"/>
<line x1="753.6" y1="980.8" x2="753.6" y2="1000.8" stroke="#b9b9bb" stroke-width="1"/>
<line x1="776.8" y1="992.4" x2="776.8" y2="1012.4" stroke="#b9b9bb" stroke-width="1"/>
<polygon points="684.0,967.0 800.0,1025.0 800.0,1038.0 684.0,980.0" fill="#d9d9db"/>
<rect x="669.2" y="965.1" width="14" height="20" rx="4" fill="#e3e6ea"/>
<circle cx="676.2" cy="960.1" r="6" fill="#4a4444"/>
<rect x="689.6" y="975.3" width="14" height="20" rx="4" fill="#3f3f42"/>
<circle cx="696.6" cy="970.3" r="6" fill="#9a7060"/>
<rect x="710.0" y="985.5" width="14" height="20" rx="4" fill="#efeff0"/>
<circle cx="717.0" cy="980.5" r="6" fill="#b89a88"/>
<rect x="730.4" y="995.7" width="14" height="20" rx="4" fill="#e6e6e8"/>
<circle cx="737.4" cy="990.7" r="6" fill="#8e8e90"/>
<rect x="750.8" y="1005.9" width="14" height="20" rx="4" fill="#e9e9eb"/>
<circle cx="757.8" cy="1000.9" r="6" fill="#6a5f58"/>
<polygon points="654.0,979.0 756.0,1030.0 770.0,1026.0 668.0,975.0" fill="#b1b1b3"/>
<polygon points="650.0,963.0 752.0,1014.0 752.0,1037.0 650.0,986.0" fill="#9f9fa1"/>
<line x1="670.4" y1="975.2" x2="670.4" y2="995.2" stroke="#b9b9bb" stroke-width="1"/>
<line x1="690.8" y1="985.4" x2="690.8" y2="1005.4" stroke="#b9b9bb" stroke-width="1"/>
<line x1="711.2" y1="995.6" x2="711.2" y2="1015.6" stroke="#b9b9bb" stroke-width="1"/>
<line x1="731.6" y1="1005.8" x2="731.6" y2="1025.8" stroke="#b9b9bb" stroke-width="1"/>
<polygon points="650.0,986.0 752.0,1037.0 752.0,1050.0 650.0,999.0" fill="#d9d9db"/>
<use href="#cam" x="875" y="420"/>
<use href="#cam" x="712" y="542"/>
<use href="#cam" x="1098" y="535"/>
<use href="#cam" x="1299" y="638"/>
<use href="#cam" x="1015" y="697"/>
<use href="#cam" x="310" y="751"/>
<use href="#cam" x="503" y="860"/>
<use href="#cam" x="909" y="837"/>
<circle cx="497" cy="612" r="60" fill="#c3c3c5" opacity="0.97"/>
<path d="M486.2,564.2 A16.5,16.5 0 0 1 508.8,564.2" fill="none" stroke="#fff" stroke-width="3.6" stroke-linecap="round"/>
<path d="M490.8,569.4 A9.5,9.5 0 0 1 504.2,569.4" fill="none" stroke="#fff" stroke-width="3.6" stroke-linecap="round"/>
<path d="M494.3,573 A4,4 0 0 1 500.7,573 L497.5,576 Z" fill="#fff"/>
<path d="M476,584 Q500,574 526,582 Q531,583 530,588 L525,627 Q524,631 520,632 Q492,640 466,629 Q461,627 462,622 L470,589 Q471,585 476,584 Z" fill="#fdfdfd"/>
<path d="M470,631 Q494,641 521,634" fill="none" stroke="#e6e6e8" stroke-width="1.5"/>
<circle cx="489" cy="605" r="1.8" fill="#b5b5b8"/>
<rect x="492" y="604" width="8" height="1.6" fill="#c5c5c8"/>
<text x="494.5" y="652.5" text-anchor="middle" font-size="11.5" fill="#ffffff">Access Point</text>

<line x1="242" y1="1200" x2="288" y2="1200" stroke="#18b6c4" stroke-width="2.5" stroke-dasharray="7,6"/>
<text x="307" y="1207" font-size="23.8" fill="#231f20">Wi-Fi Connection</text>
<line x1="533" y1="1200" x2="580" y2="1200" stroke="#18b6c4" stroke-width="2.5"/>
<text x="595" y="1207" font-size="24.2" fill="#231f20">Wired Connection</text>
<rect x="245" y="1278" width="177" height="46" rx="4.5" fill="#14bdcb"/>
<rect x="253" y="1286" width="161" height="30" fill="none" stroke="#fff" stroke-width="3.6"/>
<rect x="309.5" y="1299.5" width="11" height="5.3" fill="#0b6a76"/>
<rect x="309.5" y="1306.2" width="11" height="5.5" fill="#0b6a76"/>
<circle cx="326" cy="1300.5" r="1.1" fill="#0b6a76"/><circle cx="326" cy="1305.5" r="1.1" fill="#0b6a76"/><circle cx="326" cy="1310.5" r="1.1" fill="#0b6a76"/>
<line x1="437" y1="1301" x2="503" y2="1301" stroke="#18b6c4" stroke-width="2.5"/>
<rect x="517" y="1278" width="176" height="46" rx="4.5" fill="#14bdcb"/>
<rect x="525" y="1286" width="160" height="30" fill="none" stroke="#fff" stroke-width="3.6"/>
<g fill="#0b6a76"><circle cx="550" cy="1301.5" r="2.2"/><circle cx="565.7" cy="1301.5" r="2.2"/><circle cx="581.4" cy="1301.5" r="2.2"/><circle cx="597.1" cy="1301.5" r="2.2"/><circle cx="612.8" cy="1301.5" r="2.2"/><circle cx="628.5" cy="1301.5" r="2.2"/><circle cx="644.2" cy="1301.5" r="2.2"/><circle cx="660" cy="1301.5" r="2.2"/></g>
<line x1="712" y1="1301" x2="784" y2="1301" stroke="#18b6c4" stroke-width="2.5"/>
<path d="M829,1240 Q873,1226 917,1236 Q924,1238 923,1245 L914,1323 Q913,1328 907,1329 Q860,1337 812,1320 Q805,1317 806,1311 L820,1248 Q822,1242 829,1240 Z" fill="#13bdca"/>
<path d="M812,1324 Q860,1341 911,1331 L909,1335 Q860,1345 815,1329 Z" fill="#13bdca"/>
<path d="M812,1321 Q860,1338 911,1328" fill="none" stroke="#e8fbfd" stroke-width="1.3"/>
<circle cx="851" cy="1281" r="2.6" fill="none" stroke="#e8fbfd" stroke-width="1.2"/>
<rect x="855" y="1280" width="14" height="1.8" fill="#c8f3f7"/>
<line x1="956" y1="1301" x2="1055" y2="1301" stroke="#18b6c4" stroke-width="2.5" stroke-dasharray="7,5.9"/>
<g transform="translate(1143,1316)">
  <path d="M-47.7,-68 Q10,-86 72.3,-64 L58.3,5.3 Q52,10 43.7,8 L30,22 Q10,34 -10,30 Q-30,20 -32.3,-4 Z" fill="url(#domeg)"/>
  <path d="M-47.7,-68 Q10,-86 72.3,-64 L71,-57 Q10,-76 -46,-61 Z" fill="#f6f6f7"/>
  <path d="M-32,-6 Q-26,-42 8,-45 Q40,-44 46,-12 L44,8 L30,22 L-10,30 Z" fill="#d8d8da"/>
  <path d="M-26,-14 Q-18,-36 8,-38 Q34,-36 40,-12 L36,4 Q20,-20 0,-20 Q-18,-20 -26,-4 Z" fill="#ececed"/>
  <ellipse cx="0" cy="0" rx="31" ry="31" fill="#0f0f10"/>
  <path d="M-22,14 Q0,36 24,14 Q14,30 0,31 Q-14,30 -22,14 Z" fill="#3d3d3f"/>
  <circle cx="-1" cy="0" r="17" fill="#2e2e30"/>
  <circle cx="-1" cy="0" r="11.5" fill="#0b0b0c"/>
  <ellipse cx="-3" cy="-1" rx="4.5" ry="3.5" fill="#7fa4c0"/>
  <path d="M-31,-6 L-21,-4 L-20.3,10.7 L-30,9 Z" fill="#ededee"/>
  <path d="M17,-8 L27,-9.3 L27.7,7 L18,8.5 Z" fill="#ededee"/>
  <path d="M46,-31 q4,-3 7,0 q2,4 -2,6 l-1,4 l-3,-1 l1,-3 q-4,-1 -2,-6 z" fill="#1d1d1f"/>
  <rect x="54" y="-28" width="7" height="2" fill="#555558"/>
</g>
<text x="333.5" y="1376" text-anchor="middle" font-size="23.5" fill="#231f20">NVR</text>
<text x="604.5" y="1376" text-anchor="middle" font-size="23.5" fill="#231f20">PoE Switch</text>
<text x="861.5" y="1376" text-anchor="middle" font-size="23.8" fill="#231f20">Access Point</text>
<text x="1155.7" y="1376" text-anchor="middle" font-size="22.8" fill="#231f20">VIGI C440-W</text>

</svg>
</body></html>
